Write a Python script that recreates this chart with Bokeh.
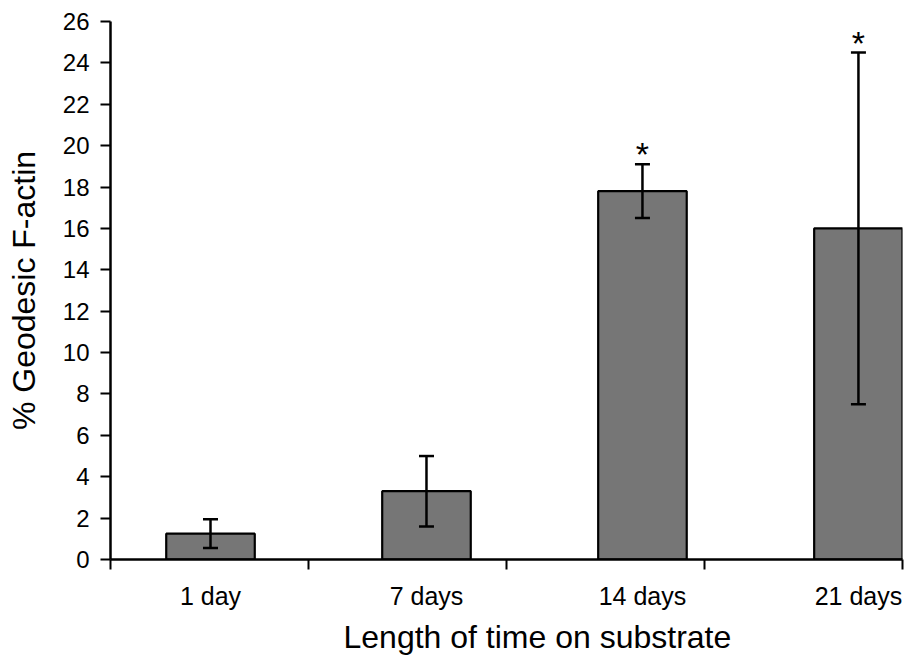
import numpy as np
from bokeh.plotting import figure
from bokeh.models import (ColumnDataSource, Range1d, FixedTicker, Whisker, TeeHead, Title)
from bokeh.core.properties import value
from bokeh.embed import file_html
from bokeh.resources import INLINE

# ---- data ----
categories = ["1 day", "7 days", "14 days", "21 days"]
means = [1.25, 3.3, 17.8, 16.0]
errors = [0.7, 1.7, 1.3, 8.5]
signif = ["", "", "*", "*"]
y_ticks = list(range(0, 27, 2))
x_title = "Length of time on substrate"
y_title = "% Geodesic F-actin"

positions = list(range(len(categories)))
upper = [m + e for m, e in zip(means, errors)]
lower = [m - e for m, e in zip(means, errors)]

src = ColumnDataSource(dict(x=positions, top=means, upper=upper, lower=lower,
                            sig=signif, cat=categories))

FONT = "Liberation Sans"
x_start, x_end = -0.463, 3.204

p = figure(width=906, height=658, output_backend="svg", toolbar_location=None,
           x_range=Range1d(x_start, x_end), y_range=Range1d(0, 26),
           min_border_left=110, min_border_right=4, min_border_top=21,
           min_border_bottom=99)
p.outline_line_color = None
p.xgrid.visible = False
p.ygrid.visible = False
p.background_fill_color = "white"
p.border_fill_color = "white"

p.vbar(x="x", top="top", width=0.41, source=src, fill_color="#767676",
       line_color="black", line_width=2.2)

w = Whisker(base="x", upper="upper", lower="lower", source=src,
            line_color="black", line_width=2.5, level="annotation",
            upper_head=TeeHead(size=15, line_width=2.5, line_color="black"),
            lower_head=TeeHead(size=15, line_width=2.5, line_color="black"))
p.add_layout(w)

p.text(x="x", y="upper", text="sig", source=src, text_align="center",
       text_baseline="alphabetic", y_offset=-10, text_font=value(FONT),
       text_font_size="34px", text_color="black")

# y axis
ya = p.yaxis[0]
ya.ticker = FixedTicker(ticks=y_ticks)
ya.minor_tick_line_color = None
ya.major_tick_out = 10
ya.major_tick_in = 0
ya.major_tick_line_width = 2
ya.axis_line_width = 2.5
ya.major_label_standoff = 11
ya.major_label_text_font = FONT
ya.major_label_text_font_size = "24px"
ya.major_label_text_color = "black"
ya.axis_label = y_title
ya.axis_label_text_font = FONT
ya.axis_label_text_font_size = "32px"
ya.axis_label_text_font_style = "normal"
ya.axis_label_text_color = "black"
ya.axis_label_standoff = 18

# x axis
boundaries = list(np.linspace(x_start, x_end, len(categories) + 1))
xa = p.xaxis[0]
xa.ticker = FixedTicker(ticks=positions, minor_ticks=boundaries)
xa.major_label_overrides = {i: c for i, c in zip(positions, categories)}
xa.major_tick_out = 0
xa.major_tick_in = 0
xa.major_tick_line_color = None
xa.minor_tick_out = 10
xa.minor_tick_in = 0
xa.minor_tick_line_width = 2
xa.axis_line_width = 2.5
xa.major_label_standoff = 12
xa.major_label_text_font = FONT
xa.major_label_text_font_size = "25px"
xa.major_label_text_color = "black"

# x-axis title as a "below" title
p.add_layout(Title(text=x_title, align="left", offset=233, standoff=8,
                   text_font=FONT, text_font_size="32px",
                   text_font_style="normal", text_color="black"), "below")

open("out.html", "w").write(file_html(p, INLINE))
